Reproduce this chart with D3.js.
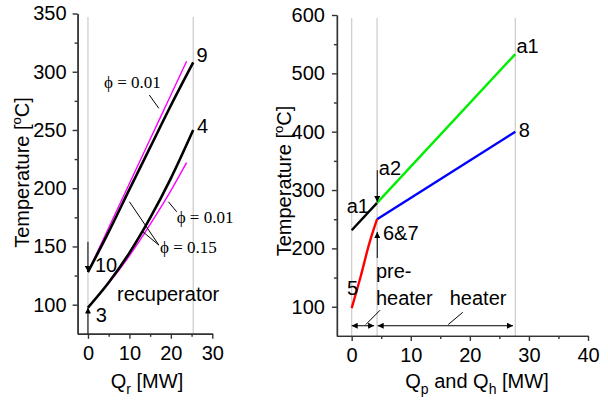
<!DOCTYPE html>
<html><head><meta charset="utf-8">
<script src="https://cdn.jsdelivr.net/npm/d3@7"></script>
<style>
body{margin:0;background:#fff}
text{font-family:Arial,"Liberation Sans",sans-serif;fill:#000}
</style></head><body>
<svg id="chart" width="608" height="401"></svg>
<script>
// left panel: recuperator
const recTicksX = [0, 10, 20, 30]
const recMinorX = [5, 15, 25]
const recTicksY = [100, 150, 200, 250, 300, 350]
const recMinorY = [125, 175, 225, 275, 325]
const recGuides = [0, 25.4]
const hotQ = [0, 5, 10, 15, 20, 25.4]          // 10 -> 9
const hotT = [128, 162.5, 199, 235, 271, 308]
const hotQ01 = [0, 5, 10, 15, 20, 23.8]        // phi = 0.01
const hotT01 = [128, 166, 204, 242, 280, 309]
const coldQ = [0, 5, 10, 15, 20, 25.4]         // 3 -> 4
const coldT = [97.5, 119, 144.5, 174.5, 208.5, 250]
const coldQ01 = [0, 5, 10, 15, 20, 23.8]
const coldT01 = [97.5, 118.5, 142, 169, 198, 222]

// right panel: pre-heater and heater
const htTicksX = [0, 10, 20, 30, 40]
const htMinorX = [5, 15, 25, 35]
const htTicksY = [100, 200, 300, 400, 500, 600]
const htMinorY = [150, 250, 350, 450, 550]
const htGuides = [0, 4.3, 27.7]
const airPreQ = [0, 4.3], airPreT = [231, 278]
const airQ = [4.3, 27.7], airT = [278, 533]
const co2Q = [4.3, 27.7], co2T = [250, 400]
const preQ = [0, 1.5, 3, 4.3], preT = [97.5, 151, 209, 250]

const svg = d3.select("#chart")

svg.append("defs").append("marker")
  .attr("id", "head")
  .attr("viewBox", "0 0 10 10")
  .attr("refX", 10).attr("refY", 5)
  .attr("markerWidth", 7).attr("markerHeight", 6)
  .attr("markerUnits", "userSpaceOnUse")
  .attr("orient", "auto-start-reverse")
  .append("path").attr("d", "M0,0L10,5L0,10Z").attr("fill", "#000")

function zip(qs, ts) { return qs.map((q, i) => [q, ts[i]]) }

function panel(xDom, xRange, yDom, yRange, ticks) {
  const x = d3.scaleLinear().domain(xDom).range(xRange)
  const y = d3.scaleLinear().domain(yDom).range(yRange)
  const g = svg.append("g")

  // light guide lines
  g.selectAll(".guide").data(ticks.guides).enter().append("line")
    .attr("x1", d => x(d)).attr("x2", d => x(d))
    .attr("y1", y(ticks.guideTop)).attr("y2", y(yDom[0]))
    .attr("stroke", "#cfcfcf").attr("stroke-width", 1.3)

  const style = a => {
    a.selectAll("path,line").attr("stroke", "#333").attr("stroke-width", 1.4)
    a.selectAll("text").style("font-size", "20px").attr("fill", "#000")
  }
  g.append("g").attr("transform", `translate(0,${yRange[0]})`)
    .call(d3.axisBottom(x).tickValues(ticks.minorX).tickSize(3).tickSizeOuter(0).tickFormat(""))
    .call(style)
  g.append("g").attr("transform", `translate(0,${yRange[0]})`)
    .call(d3.axisBottom(x).tickValues(ticks.x).tickSize(5).tickSizeOuter(0).tickPadding(7))
    .call(style)
  g.append("g").attr("transform", `translate(${xRange[0]},0)`)
    .call(d3.axisLeft(y).tickValues(ticks.minorY).tickSize(3).tickSizeOuter(0).tickFormat(""))
    .call(style)
  g.append("g").attr("transform", `translate(${xRange[0]},0)`)
    .call(d3.axisLeft(y).tickValues(ticks.y).tickSize(5).tickSizeOuter(0).tickPadding(ticks.pad))
    .call(style)
  return { x, y, g }
}

function curve(p, data, color, w) {
  const line = d3.line().x(d => p.x(d[0])).y(d => p.y(d[1])).curve(d3.curveMonotoneX)
  p.g.append("path").datum(data).attr("d", line)
    .attr("fill", "none").attr("stroke", color).attr("stroke-width", w)
}

function seg(p, a, b, opts = {}) {
  p.g.append("line")
    .attr("x1", p.x(a[0])).attr("y1", p.y(a[1]))
    .attr("x2", p.x(b[0])).attr("y2", p.y(b[1]))
    .attr("stroke", "#000").attr("stroke-width", opts.w || 1)
    .attr("marker-end", opts.end ? "url(#head)" : null)
    .attr("marker-start", opts.start ? "url(#head)" : null)
}

function label(p, q, t, txt, opts = {}) {
  return p.g.append("text").attr("x", p.x(q)).attr("y", p.y(t))
    .style("font-size", (opts.size || 20) + "px")
    .style("font-family", opts.serif ? "'Liberation Serif','Times New Roman',serif" : null)
    .text(txt)
}

// ---- left
const L = panel([-2.5, 30], [77.6, 212.3], [75, 350], [333.8, 13.5],
  { x: recTicksX, minorX: recMinorX, y: recTicksY, minorY: recMinorY, guides: recGuides, guideTop: 347, pad: 6 })

curve(L, zip(hotQ01, hotT01), "#ff00ff", 1.4)
curve(L, zip(coldQ01, coldT01), "#ff00ff", 1.4)
curve(L, zip(hotQ, hotT), "#000", 2.6)
curve(L, zip(coldQ, coldT), "#000", 2.6)

seg(L, [0, 154], [0, 128], { end: true })
seg(L, [0, 75], [0, 97.5], { end: true })
seg(L, [14.8, 280], [17.1, 268.6])
seg(L, [19.4, 188.4], [21.4, 179.8])
seg(L, [10, 188.4], [17.1, 151.2])
seg(L, [13.2, 162.7], [17.1, 151.2])

label(L, 26.2, 308.6, "9")
label(L, 26.3, 247.4, "4")
label(L, 1.7, 128, "10")
label(L, 1.9, 85.1, "3")
label(L, 7.0, 103.2, "recuperator")
label(L, 3.86, 286, "\u03D5 = 0.01", { serif: true, size: 17 })
label(L, 21.4, 170.1, "\u03D5 = 0.01", { serif: true, size: 17 })
label(L, 17.4, 144.4, "\u03D5 = 0.15", { serif: true, size: 17 })

// ---- right
const R = panel([-2.5, 40], [336.9, 588], [50, 600], [335.9, 15],
  { x: htTicksX, minorX: htMinorX, y: htTicksY, minorY: htMinorY, guides: htGuides, guideTop: 595, pad: 7 })

curve(R, zip(airPreQ, airPreT), "#000", 2.4)
curve(R, zip(airQ, airT), "#00ee00", 2.4)
curve(R, zip(co2Q, co2T), "#0000ff", 2.4)
curve(R, zip(preQ, preT), "#ff0000", 2.4)

seg(R, [4.33, 334], [4.33, 279.5], { end: true })
seg(R, [4.33, 183.5], [4.33, 228], { end: true })
seg(R, [0, 67.4], [3.8, 67.4], { start: true, end: true })
seg(R, [4.4, 67.4], [27.3, 67.4], { start: true, end: true })
seg(R, [2.4, 69.5], [4.8, 94])
seg(R, [16.35, 69.5], [18.8, 90.4])

label(R, 27.9, 534.9, "a1")
label(R, 28.3, 390.9, "8")
label(R, 4.6, 325.8, "a2")
label(R, -0.85, 260.6, "a1")
label(R, 5.3, 214.3, "6&7")
label(R, -0.8, 120, "5")
label(R, 4.1, 149.2, "pre-")
label(R, 4.1, 102.9, "heater")
label(R, 16.6, 102.9, "heater")

// ---- axis titles
function yTitle(cx, cy) {
  const t = svg.append("text").attr("transform", `translate(${cx},${cy}) rotate(-90)`)
    .attr("text-anchor", "middle").style("font-size", "20px")
  t.append("tspan").text("Temperature [")
  t.append("tspan").attr("dy", -8).style("font-size", "13px").text("o")
  t.append("tspan").attr("dy", 8).text("C]")
}
yTitle(29, 172.5)
yTitle(291, 181)

// parts: [text, isSubscript]
function xTitle(cx, parts) {
  const t = svg.append("text").attr("x", cx).attr("y", 388)
    .attr("text-anchor", "middle").style("font-size", "20px")
  let low = false
  parts.forEach(([s, sub]) => {
    const dy = sub ? (low ? 0 : 6) : (low ? -6 : 0)
    low = !!sub
    t.append("tspan").attr("dy", dy).style("font-size", sub ? "14px" : "20px").text(s)
  })
}
xTitle(147, [["Q"], ["r", true], [" [MW]"]])
xTitle(477, [["Q"], ["p", true], [" and Q"], ["h", true], [" [MW]"]])
</script>
</body></html>
